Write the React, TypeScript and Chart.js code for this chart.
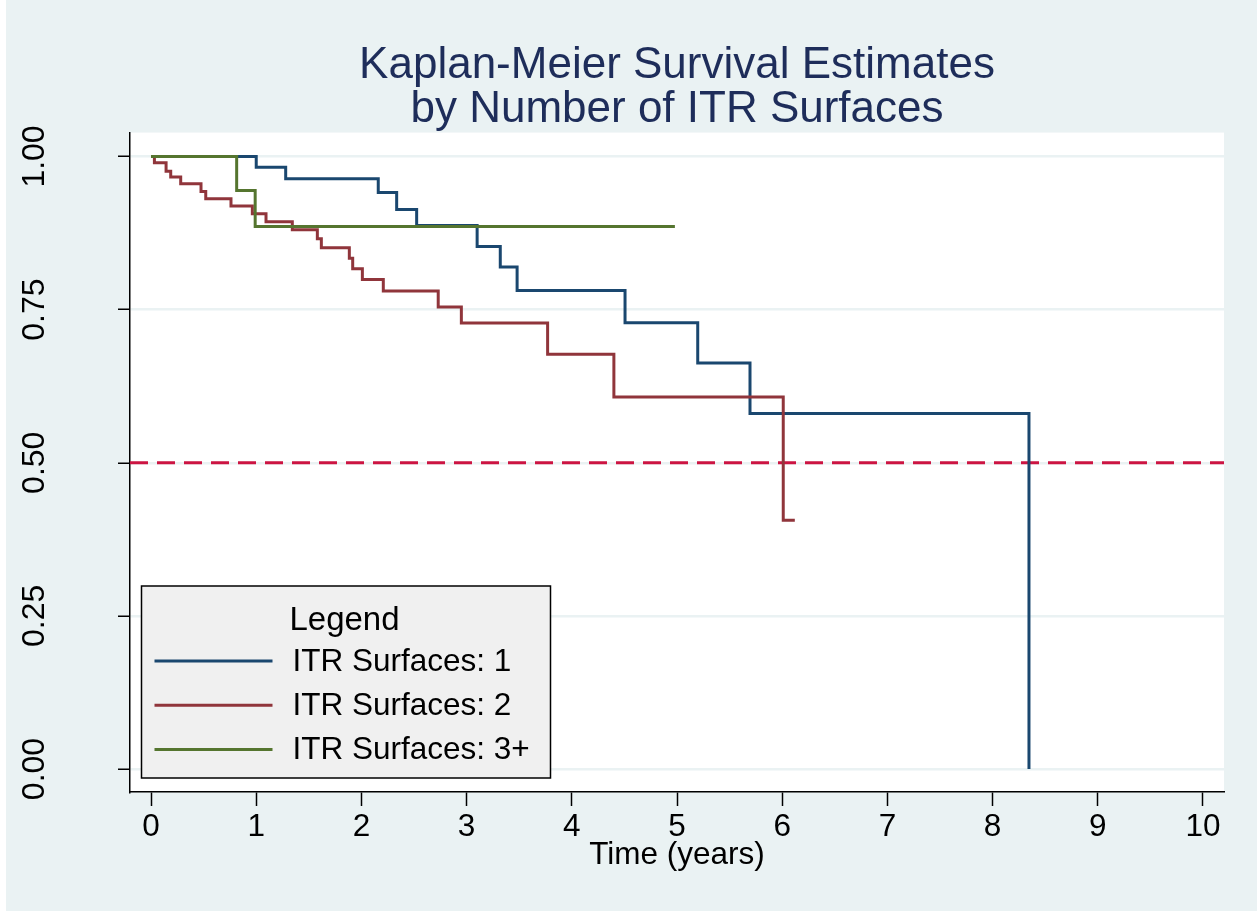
import React, { useEffect, useRef } from 'react';
import { Chart, registerables } from 'chart.js';

Chart.register(...registerables);

const titleLines = ['Kaplan-Meier Survival Estimates', 'by Number of ITR Surfaces'];
const xAxisTitle = 'Time (years)';
const xTickValues = [0, 1, 2, 3, 4, 5, 6, 7, 8, 9, 10];
const yTickValues = [0, 0.25, 0.5, 0.75, 1];
const yTickLabels = ['0.00', '0.25', '0.50', '0.75', '1.00'];
const legendTitle = 'Legend';
const seriesLabels = ['ITR Surfaces: 1', 'ITR Surfaces: 2', 'ITR Surfaces: 3+'];
const seriesColors = ['#1A476F', '#90353B', '#55752F'];

const itr1Times = [0, 1.0, 1.28, 2.16, 2.335, 2.525, 3.1, 3.32, 3.48, 4.506, 5.197, 5.694, 8.346];
const itr1Surv = [1, 0.9826, 0.9636, 0.941, 0.9135, 0.8874, 0.853, 0.8194, 0.7814, 0.7287, 0.6628, 0.5803, 0];

const itr2Times = [0, 0.032, 0.143, 0.187, 0.282, 0.475, 0.52, 0.76, 0.963, 1.093, 1.343, 1.581, 1.619, 1.885, 1.917, 2.009, 2.208, 2.73, 2.95, 3.77, 4.4, 6.01, 6.12];
const itr2Surv = [1, 0.9897, 0.976, 0.9663, 0.9554, 0.943, 0.931, 0.919, 0.9065, 0.8934, 0.8804, 0.8657, 0.851, 0.834, 0.8167, 0.7993, 0.7803, 0.7542, 0.728, 0.677, 0.6074, 0.4062, 0.4062];

const itr3Times = [0, 0.814, 0.99, 4.98];
const itr3Surv = [1, 0.9445, 0.8858, 0.8858];

const refLineY = 0.5;
const xMin = -0.2;
const xMax = 10.2;
const yMin = -0.0375;
const yMax = 1.039;

const FONT = "'Liberation Sans', Arial, Helvetica, sans-serif";
const BG = '#EAF2F3';

const toPoints = (t: number[], s: number[]) => t.map((x, i) => ({ x, y: s[i] }));

const decorPlugin = {
  id: 'decor',
  beforeDraw(chart: any) {
    const { ctx, width, height, chartArea: ca } = chart;
    ctx.save();
    ctx.fillStyle = BG;
    ctx.fillRect(0, 0, width, height);
    ctx.fillStyle = '#ffffff';
    ctx.fillRect(0, 0, 6, height);
    ctx.fillRect(ca.left, ca.top, ca.right - ca.left, ca.bottom - ca.top);
    ctx.restore();
  },
  afterDraw(chart: any) {
    const { ctx, chartArea: ca } = chart;
    const yScale = chart.scales.y;
    ctx.save();
    // rotated y tick labels
    ctx.fillStyle = '#000';
    ctx.font = `32px ${FONT}`;
    ctx.textAlign = 'center';
    ctx.textBaseline = 'middle';
    yTickValues.forEach((v, i) => {
      const py = yScale.getPixelForValue(v);
      ctx.save();
      ctx.translate(35, py);
      ctx.rotate(-Math.PI / 2);
      ctx.fillText(yTickLabels[i], 0, 0);
      ctx.restore();
    });
    // legend box
    const boxLeft = ca.left + 11.5;
    const boxW = 409;
    const boxBottom = ca.bottom - 14;
    const boxH = 192;
    const boxTop = boxBottom - boxH;
    ctx.fillStyle = '#F0F0F0';
    ctx.fillRect(boxLeft, boxTop, boxW, boxH);
    ctx.strokeStyle = '#000';
    ctx.lineWidth = 1.5;
    ctx.strokeRect(boxLeft, boxTop, boxW, boxH);
    ctx.fillStyle = '#000';
    ctx.font = `33px ${FONT}`;
    ctx.textAlign = 'center';
    ctx.textBaseline = 'middle';
    ctx.fillText(legendTitle, boxLeft + 203, boxTop + 35);
    ctx.font = `31.5px ${FONT}`;
    ctx.textAlign = 'left';
    const ds = chart.data.datasets;
    for (let i = 0; i < 3; i++) {
      const y = boxTop + 75 + i * 44.2;
      ctx.strokeStyle = ds[i].borderColor;
      ctx.lineWidth = 3;
      ctx.beginPath();
      ctx.moveTo(boxLeft + 13, y);
      ctx.lineTo(boxLeft + 131, y);
      ctx.stroke();
      ctx.fillStyle = '#000';
      ctx.fillText(ds[i].label, boxLeft + 151, y + 1);
    }
    ctx.restore();
  },
};

export default function App() {
  const canvasRef = useRef<HTMLCanvasElement | null>(null);

  useEffect(() => {
    if (!canvasRef.current) return;
    const lineBase = {
      stepped: 'before' as const,
      borderWidth: 3,
      pointRadius: 0,
      fill: false,
      tension: 0,
      borderJoinStyle: 'miter' as const,
    };
    const chart = new Chart(canvasRef.current, {
      type: 'line',
      data: {
        datasets: [
          { ...lineBase, label: seriesLabels[0], data: toPoints(itr1Times, itr1Surv), borderColor: seriesColors[0], order: 2 },
          { ...lineBase, label: seriesLabels[1], data: toPoints(itr2Times, itr2Surv), borderColor: seriesColors[1], order: 1 },
          { ...lineBase, label: seriesLabels[2], data: toPoints(itr3Times, itr3Surv), borderColor: seriesColors[2], order: 0 },
          {
            label: 'ref',
            data: [{ x: xMin, y: refLineY }, { x: xMax, y: refLineY }],
            borderColor: '#CC1442',
            borderWidth: 3,
            borderDash: [18, 9],
            pointRadius: 0,
            fill: false,
            order: 3,
          },
        ],
      },
      options: {
        animation: false,
        responsive: false,
        devicePixelRatio: 1,
        events: [],
        layout: { padding: { top: 43, left: 0, right: 33, bottom: 0 } },
        plugins: {
          legend: { display: false },
          tooltip: { enabled: false },
          title: {
            display: true,
            text: titleLines,
            color: '#1E2D5A',
            fullSize: false,
            font: { family: FONT, size: 44, weight: 'normal', lineHeight: 1.018 },
            padding: { top: 0, bottom: 0 },
          },
        },
        scales: {
          x: {
            type: 'linear',
            min: xMin,
            max: xMax,
            afterBuildTicks: (s: any) => {
              s.ticks = xTickValues.map((v) => ({ value: v }));
            },
            afterFit: (s: any) => {
              s.height = 119;
            },
            ticks: {
              color: '#000',
              font: { family: FONT, size: 31.5 },
              padding: 2,
              maxRotation: 0,
              autoSkip: false,
              callback: (v: any) => String(v),
            },
            grid: {
              drawOnChartArea: false,
              drawTicks: true,
              tickLength: 14,
              tickColor: '#000',
              tickWidth: 1.5,
            },
            border: { color: '#000', width: 1.5 },
            title: {
              display: true,
              text: xAxisTitle,
              color: '#000',
              font: { family: FONT, size: 31.5 },
              padding: { top: 0, bottom: 37 },
            },
          },
          y: {
            type: 'linear',
            min: yMin,
            max: yMax,
            afterBuildTicks: (s: any) => {
              s.ticks = yTickValues.map((v) => ({ value: v }));
            },
            afterFit: (s: any) => {
              s.width = 130;
            },
            ticks: { display: false },
            grid: {
              color: BG,
              lineWidth: 2.5,
              drawTicks: true,
              tickLength: 12,
              tickColor: '#000',
              tickWidth: 1.5,
            },
            border: { color: '#000', width: 1.5 },
          },
        },
      },
      plugins: [decorPlugin],
    });
    return () => chart.destroy();
  }, []);

  return (
    <div style={{ position: 'fixed', left: 0, top: 0, width: 1257, height: 911 }}>
      <canvas ref={canvasRef} width={1257} height={911} style={{ display: 'block' }} />
    </div>
  );
}
